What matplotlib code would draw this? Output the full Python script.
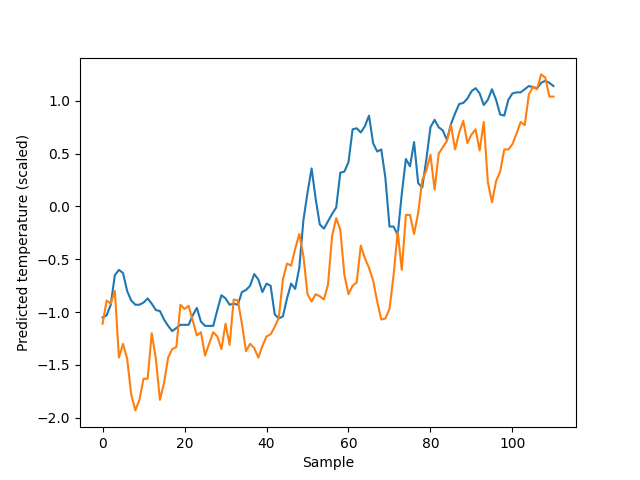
import matplotlib
matplotlib.use("Agg")
import matplotlib.pyplot as plt

predicted = [-1.05, -1.03, -0.93, -0.65, -0.60, -0.63, -0.80, -0.89, -0.93, -0.93,
             -0.91, -0.87, -0.92, -0.98, -0.99, -1.07, -1.13, -1.18, -1.15, -1.12,
             -1.12, -1.12, -1.03, -0.96, -1.09, -1.13, -1.13, -1.13, -0.98, -0.84,
             -0.87, -0.93, -0.92, -0.93, -0.81, -0.79, -0.75, -0.64, -0.69, -0.81,
             -0.73, -0.75, -1.02, -1.06, -1.04, -0.87, -0.73, -0.78, -0.58, -0.13,
             0.13, 0.36, 0.07, -0.17, -0.21, -0.14, -0.07, -0.01, 0.32, 0.33,
             0.42, 0.73, 0.74, 0.70, 0.76, 0.86, 0.60, 0.52, 0.54, 0.27,
             -0.19, -0.19, -0.27, 0.12, 0.45, 0.38, 0.61, 0.22, 0.18, 0.45,
             0.75, 0.82, 0.75, 0.72, 0.63, 0.78, 0.88, 0.97, 0.98, 1.02,
             1.09, 1.12, 1.07, 0.96, 1.01, 1.11, 1.01, 0.87, 0.86, 1.01,
             1.07, 1.08, 1.08, 1.11, 1.14, 1.13, 1.12, 1.17, 1.19, 1.17,
             1.14]

actual = [-1.11, -0.89, -0.92, -0.80, -1.43, -1.30, -1.44, -1.78, -1.93, -1.83,
          -1.63, -1.63, -1.20, -1.44, -1.83, -1.67, -1.43, -1.35, -1.33, -0.93,
          -0.97, -0.94, -1.08, -1.22, -1.19, -1.41, -1.30, -1.19, -1.23, -1.35,
          -1.11, -1.31, -0.88, -0.89, -1.11, -1.37, -1.30, -1.34, -1.43, -1.32,
          -1.23, -1.21, -1.14, -1.05, -0.69, -0.54, -0.56, -0.40, -0.26, -0.47,
          -0.83, -0.90, -0.83, -0.85, -0.88, -0.74, -0.28, -0.11, -0.22, -0.65,
          -0.83, -0.75, -0.72, -0.37, -0.49, -0.58, -0.70, -0.90, -1.07, -1.06,
          -0.97, -0.65, -0.24, -0.60, -0.08, -0.08, -0.26, -0.06, 0.25, 0.34,
          0.49, 0.16, 0.50, 0.56, 0.62, 0.77, 0.54, 0.70, 0.81, 0.60,
          0.68, 0.73, 0.53, 0.80, 0.23, 0.04, 0.24, 0.33, 0.54, 0.54,
          0.59, 0.69, 0.80, 0.77, 1.06, 1.13, 1.11, 1.25, 1.22, 1.04,
          1.04]

fig, ax = plt.subplots(figsize=(6.4, 4.8), dpi=100)
ax.plot(range(len(predicted)), predicted)
ax.plot(range(len(actual)), actual)
ax.set_xlabel("Sample")
ax.set_ylabel("Predicted temperature (scaled)")
fig.savefig("out.png")
